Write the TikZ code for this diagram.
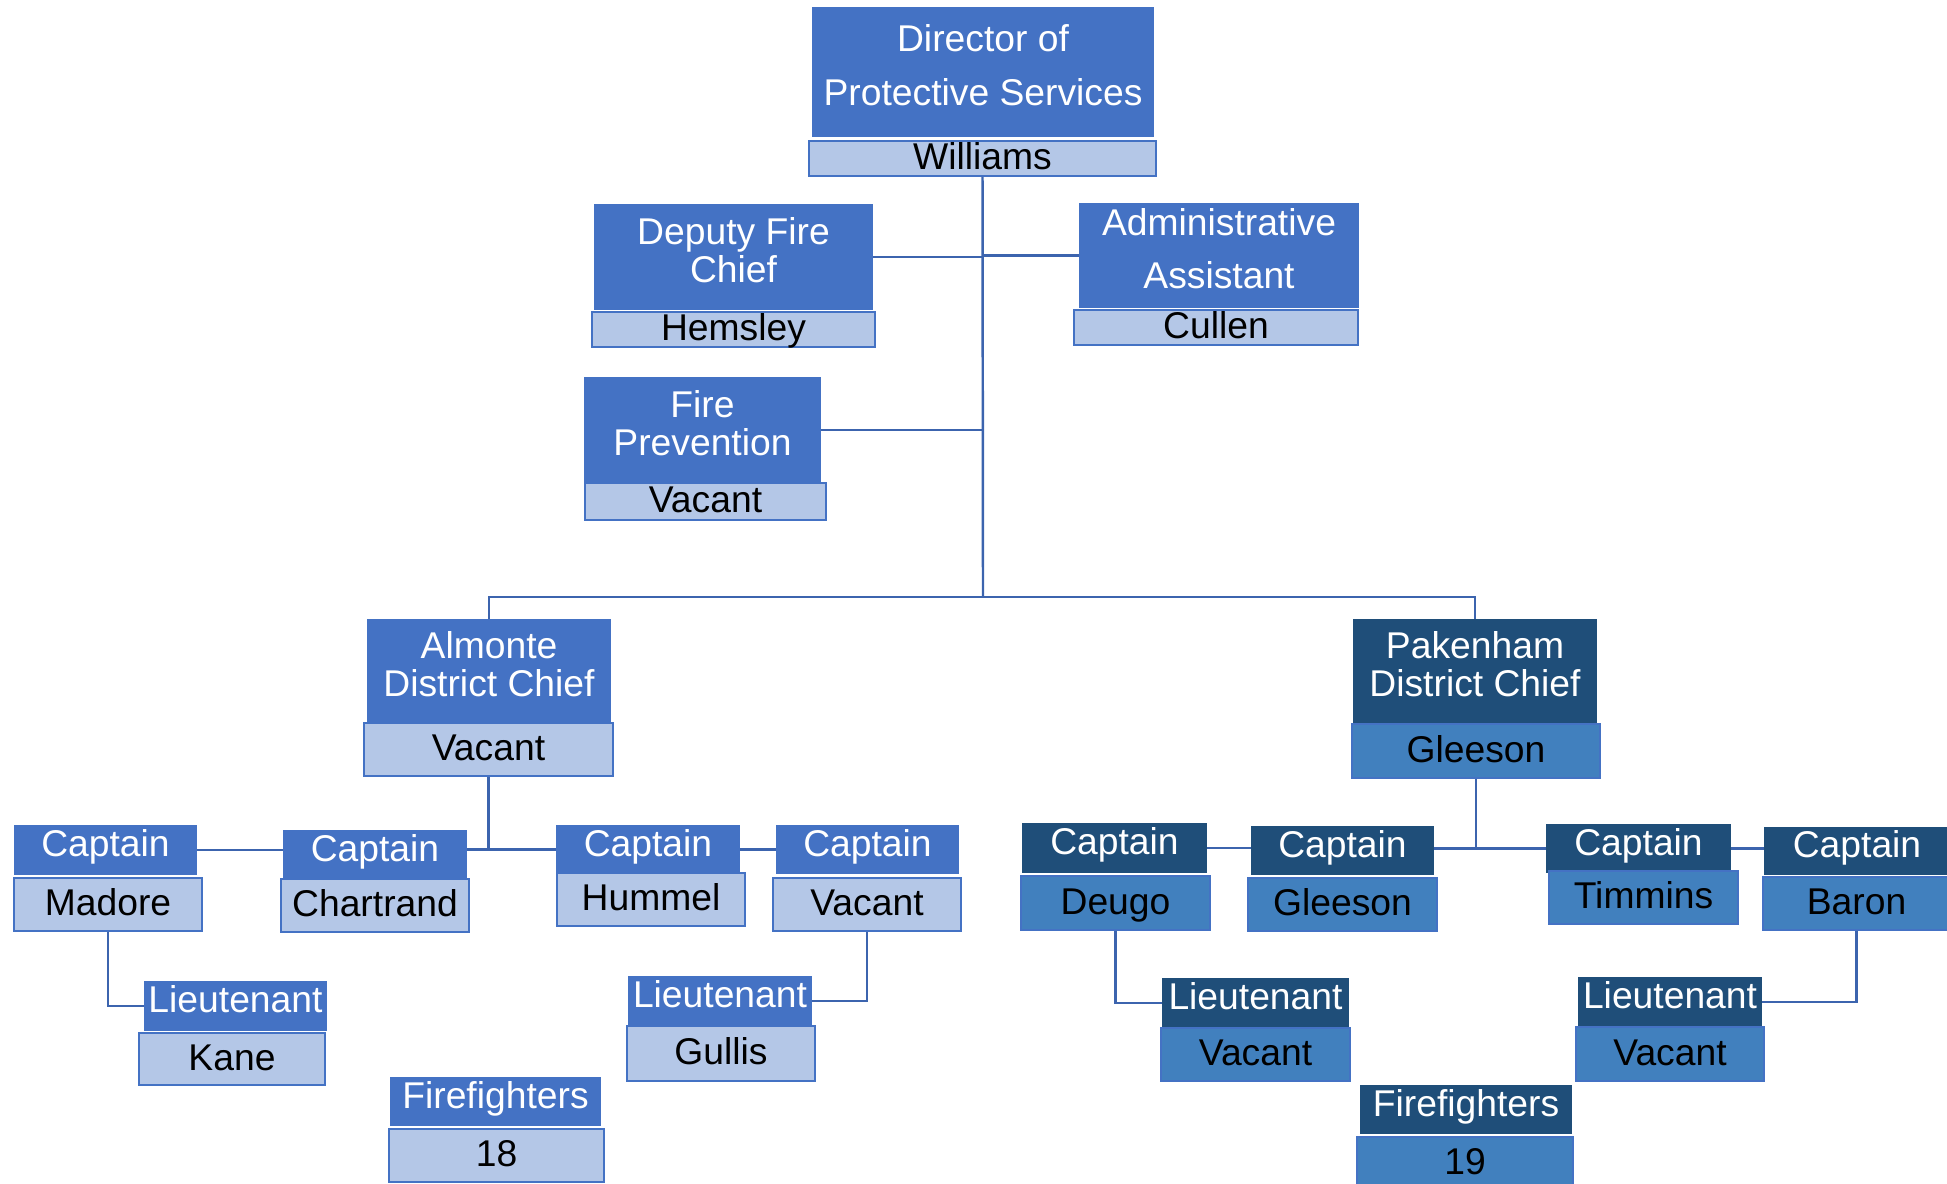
\documentclass[tikz,border=0pt]{standalone}
\usepackage{fontspec}
\setmainfont{Liberation Sans}

\definecolor{hdlight}{HTML}{4472C4}
\definecolor{nmlight}{HTML}{B4C7E7}
\definecolor{hddark}{HTML}{1F4E79}
\definecolor{nmdark}{HTML}{4180BE}
\definecolor{wireblue}{HTML}{3C64AE}

% extra depth under the last line of a title, lifts the text
\newcommand{\lift}{\rule[-8pt]{0pt}{8pt}}

\begin{document}
\begin{tikzpicture}[x=0.2mm,y=-0.2mm,
    font=\fontsize{21.2}{22}\selectfont,
    hd/.style={fill=hdlight,text=white,inner sep=0pt,align=center},
    hdd/.style={fill=hddark,text=white,inner sep=0pt,align=center},
    nm/.style={fill=nmlight,draw=hdlight,line width=1.1pt,inner sep=0pt,namerow},
    nmd/.style={fill=nmdark,draw=hdlight,line width=1.1pt,inner sep=0pt,namerow},
    oneline/.style={text height=13.7pt,text depth=5.8pt},
    namerow/.style={text height=16pt,text depth=3.5pt},
    sz/.style 2 args={minimum width=#1*0.2mm,minimum height=#2*0.2mm},
    link/.style={draw=wireblue,line width=1.4pt}]
            \useasboundingbox (0,0) rectangle (1947,1183);

            % director and staff
            \node[hd,sz={342}{130},font=\fontsize{21.2}{30.5}\selectfont] (dirT) at (983,72) {Director of\\Protective Services\lift};
            \node[nm,sz={347}{35}] (dirN) at (982.5,158.5) {Williams};
            \node[hd,sz={279}{106}] (depT) at (733.5,257) {Deputy Fire\\Chief\lift};
            \node[nm,sz={283}{35}] (depN) at (733.5,329.5) {Hemsley};
            \node[hd,sz={280}{105},font=\fontsize{21.2}{30.5}\selectfont] (admT) at (1219,255.5) {Administrative\\Assistant\lift};
            \node[nm,sz={284}{35}] (admN) at (1216,327.5) {Cullen};
            \node[hd,sz={237}{106}] (fpT) at (702.5,430) {Fire\\Prevention\lift};
            \node[nm,sz={241}{37}] (fpN) at (705.5,501.5) {Vacant};

            % Almonte
            \node[hd,sz={244}{104}] (almT) at (489,671) {Almonte\\District Chief\lift};
            \node[nm,sz={249}{53}] (almN) at (488.5,749.5) {Vacant};
            \node[hd,oneline,sz={183}{50}] (madT) at (105.5,850) {Captain};
            \node[nm,sz={188}{53}] (madN) at (108,904.5) {Madore};
            \node[hd,oneline,sz={184}{49}] (chaT) at (375,854.5) {Captain};
            \node[nm,sz={188}{53}] (chaN) at (375,905.5) {Chartrand};
            \node[hd,oneline,sz={184}{49}] (humT) at (648,849.5) {Captain};
            \node[nm,sz={188}{53}] (humN) at (651,899.5) {Hummel};
            \node[hd,oneline,sz={183}{49}] (cvaT) at (867.5,849.5) {Captain};
            \node[nm,sz={188}{53}] (cvaN) at (867,904.5) {Vacant};
            \node[hd,oneline,sz={183}{50}] (kanT) at (235.5,1006) {Lieutenant};
            \node[nm,sz={186}{52}] (kanN) at (232,1059) {Kane};
            \node[hd,oneline,sz={184}{50}] (gulT) at (720,1001) {Lieutenant};
            \node[nm,sz={188}{55}] (gulN) at (721,1053.5) {Gullis};
            \node[hd,oneline,sz={211}{49}] (ffaT) at (495.5,1101.5) {Firefighters};
            \node[nm,sz={215}{53}] (ffaN) at (496.5,1155.5) {18};

            % Pakenham
            \node[hdd,sz={244}{104}] (pakT) at (1475,671) {Pakenham\\District Chief\lift};
            \node[nmd,sz={248}{54}] (pakN) at (1476,751) {Gleeson};
            \node[hdd,oneline,sz={185}{50}] (deuT) at (1114.5,848) {Captain};
            \node[nmd,sz={189}{54}] (deuN) at (1115.5,903) {Deugo};
            \node[hdd,oneline,sz={183}{49}] (gleT) at (1342.5,850.5) {Captain};
            \node[nmd,sz={189}{53}] (gleN) at (1342.5,904.5) {Gleeson};
            \node[hdd,oneline,sz={185}{49}] (timT) at (1638.5,848.5) {Captain};
            \node[nmd,sz={189}{53}] (timN) at (1643.5,897.5) {Timmins};
            \node[hdd,oneline,sz={186}{48}] (barT) at (1857,851) {Captain};
            \node[nmd,sz={187}{53}] (barN) at (1856.5,903.5) {Baron};
            \node[hdd,oneline,sz={187}{50}] (lvaT) at (1255.5,1003) {Lieutenant};
            \node[nmd,sz={189}{53}] (lvaN) at (1255.5,1054.5) {Vacant};
            \node[hdd,oneline,sz={184}{50}] (lvbT) at (1670,1002) {Lieutenant};
            \node[nmd,sz={188}{54}] (lvbN) at (1670,1054) {Vacant};
            \node[hdd,oneline,sz={212}{49}] (ffbT) at (1466,1109.5) {Firefighters};
            \node[nmd,sz={216}{53}] (ffbN) at (1465,1163.5) {19};

            % connectors
            \coordinate (bus) at (983,597);
            \draw[link] (dirN.south) -- (bus);
            \draw[link] (almT.north) |- (bus) -| (pakT.north);
            \draw[link] (depT.east) -- (depT.east -| bus);
            \draw[link] (admT.west) -- (admT.west -| bus);
            \draw[link] (fpT.east) -- (fpT.east -| bus);

            \coordinate (almJ) at (almN.south |- humT.west);
            \draw[link] (almN.south) -- (almJ);
            \draw[link] (chaT.east |- almJ) -- (humT.west);
            \draw[link] (madT.east) -- (madT.east -| chaT.west);
            \draw[link] (humT.east) -- (cvaT.west);
            \draw[link] (madN.south) |- (kanT.west);
            \draw[link] (cvaN.south) |- (gulT.east);

            \coordinate (pakJ) at (pakN.south |- timT.west);
            \draw[link] (pakN.south) -- (pakJ);
            \draw[link] (gleT.east |- pakJ) -- (timT.west);
            \draw[link] (deuT.east) -- (deuT.east -| gleT.west);
            \draw[link] (timT.east) -- (timT.east -| barT.west);
            \draw[link] (deuN.south) |- (lvaT.west);
            \draw[link] (barN.south) |- (lvbT.east);
\end{tikzpicture}
\end{document}
